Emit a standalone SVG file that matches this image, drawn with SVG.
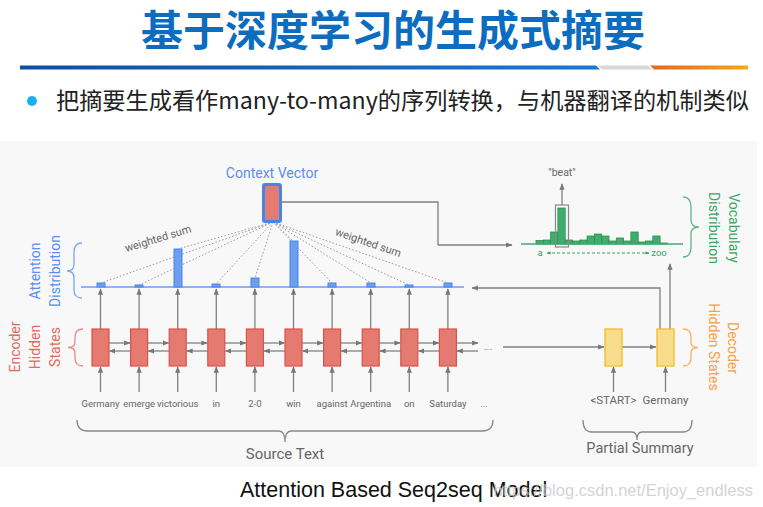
<svg xmlns="http://www.w3.org/2000/svg" width="763" height="507" viewBox="0 0 763 507">
<defs>
<linearGradient id="gBlue" x1="0" x2="1" y1="0" y2="0"><stop offset="0" stop-color="#0e4fa0"/><stop offset="1" stop-color="#1a78d0"/></linearGradient>
<linearGradient id="gOr" x1="0" x2="1" y1="0" y2="0"><stop offset="0" stop-color="#e8661a"/><stop offset="1" stop-color="#f5a81c"/></linearGradient>
<marker id="ag" viewBox="0 0 10 10" refX="9" refY="5" markerWidth="5" markerHeight="5" orient="auto-start-reverse"><path d="M0,1 L10,5 L0,9 z" fill="#777"/></marker>
<marker id="agr" viewBox="0 0 10 10" refX="9" refY="5" markerWidth="4" markerHeight="4" orient="auto-start-reverse"><path d="M0,1 L10,5 L0,9 z" fill="#34a363"/></marker>
<style>
.t{font-family:Roboto,"Noto Sans",sans-serif}
.w{font-family:Roboto,"Noto Sans",sans-serif;font-size:9.5px;fill:#666;text-anchor:middle}
.ln{stroke:#808080;stroke-width:1.3;fill:none}
.arr{stroke:#808080;stroke-width:1.3;fill:none;marker-end:url(#ag)}
.enc{fill:#e57a70;stroke:#d9534a;stroke-width:1.2}
.dec{fill:#f7dc8c;stroke:#f2c033;stroke-width:1.4}
.att{fill:#6d9eef;stroke:#4a84e8;stroke-width:1}
.voc{fill:#3fae6c;stroke:#2c8f52;stroke-width:0.8}
.dot{stroke:#9a9a9a;stroke-width:1;stroke-dasharray:1.5 2;fill:none}
</style>
</defs>
<rect width="763" height="507" fill="#ffffff"/>
<g id="header">
<text x="393" y="46" text-anchor="middle" font-family="'Noto Sans CJK SC',sans-serif" font-weight="bold" font-size="42" fill="#0c6cc0">基于深度学习的生成式摘要</text>
<polygon points="20,65.5 596,65.5 600,69.5 20,69.5" fill="url(#gBlue)"/>
<polygon points="598,65.5 648,65.5 652,69.5 602,69.5" fill="#d8d8d8"/>
<polygon points="650,65.5 748,65.5 748,69.5 654,69.5" fill="url(#gOr)"/>
<circle cx="32" cy="101" r="5" fill="#1ab0ef"/>
<text x="56" y="109" font-family="'Noto Sans CJK SC',sans-serif" font-size="23.2" fill="#222">把摘要生成看作many-to-many的序列转换，与机器翻译的机制类似</text>
</g>
<rect x="0" y="141" width="757" height="326" fill="#f8f8f8"/>
<g id="connectors">
<path class="ln" d="M281,202 H438 V245"/>
<path class="arr" d="M438,245 H512"/>
<g class="dot">
<line x1="273" y1="222" x2="101" y2="283"/><line x1="273" y1="222" x2="139" y2="285"/><line x1="273" y1="222" x2="178" y2="249"/><line x1="273" y1="222" x2="216" y2="284"/><line x1="273" y1="222" x2="255" y2="278"/><line x1="273" y1="222" x2="293" y2="241"/><line x1="273" y1="222" x2="332" y2="283"/><line x1="273" y1="222" x2="371" y2="283"/><line x1="273" y1="222" x2="409" y2="285"/><line x1="273" y1="222" x2="448" y2="283"/>
</g>
<g class="arr">
<path d="M100.5,329 V289"/><path d="M139.1,329 V289"/><path d="M177.7,329 V289"/><path d="M216.3,329 V289"/><path d="M254.9,329 V289"/><path d="M293.5,329 V289"/><path d="M332.1,329 V289"/><path d="M370.7,329 V289"/><path d="M409.3,329 V289"/><path d="M447.9,329 V289"/>
<path d="M100.5,392 V367"/><path d="M139.1,392 V367"/><path d="M177.7,392 V367"/><path d="M216.3,392 V367"/><path d="M254.9,392 V367"/><path d="M293.5,392 V367"/><path d="M332.1,392 V367"/><path d="M370.7,392 V367"/><path d="M409.3,392 V367"/><path d="M447.9,392 V367"/>
<path d="M613.5,392 V367"/><path d="M665.5,392 V367"/>
<path d="M109,343 H130"/><path d="M147.6,343 H168.6"/><path d="M186.2,343 H207.2"/><path d="M224.8,343 H245.8"/><path d="M263.4,343 H284.4"/><path d="M302,343 H323"/><path d="M340.6,343 H361.6"/><path d="M379.2,343 H400.2"/><path d="M417.8,343 H438.8"/><path d="M456.4,343 H478"/>
<path d="M130.6,351 H109.6"/><path d="M169.2,351 H148.2"/><path d="M207.8,351 H186.8"/><path d="M246.4,351 H225.4"/><path d="M285,351 H264"/><path d="M323.6,351 H302.6"/><path d="M362.2,351 H341.2"/><path d="M400.8,351 H379.8"/><path d="M439.4,351 H418.4"/><path d="M478,351 H457"/>
<path d="M503,347 H604"/><path d="M622,347 H656"/>
<path d="M660,329 V288 H472"/>
<path d="M670,329 V264"/>
<path d="M562,205 V184"/>
</g>
<text x="488" y="350" class="t" font-size="11" fill="#888" text-anchor="middle">...</text>
</g>
<g id="context-vector">
<text x="272" y="178" class="t" font-size="14" fill="#5a8ef0" text-anchor="middle">Context Vector</text>
<rect x="263.5" y="184.5" width="17" height="37" fill="#e57a70" stroke="#4a84e8" stroke-width="3" rx="1.5"/>
</g>
<g id="attention-distribution">
<line x1="81" y1="287" x2="464" y2="287" stroke="#6d9eef" stroke-width="1.6"/>
<rect class="att" x="97" y="283" width="8" height="4"/><rect class="att" x="135" y="285" width="8" height="2"/><rect class="att" x="174" y="249" width="8" height="38"/><rect class="att" x="212" y="284" width="8" height="3"/><rect class="att" x="251" y="278" width="8" height="9"/><rect class="att" x="290" y="241" width="8" height="46"/><rect class="att" x="328" y="283" width="8" height="4"/><rect class="att" x="367" y="283" width="8" height="4"/><rect class="att" x="405" y="285" width="8" height="2"/><rect class="att" x="444" y="283" width="8" height="4"/>
<path d="M82,243 Q74,243 74,252 L74,264 Q74,271 67,271 Q74,271 74,278 L74,290 Q74,298 82,298" fill="none" stroke="#7aa6f2" stroke-width="1.3"/>
<text class="t" font-size="14" fill="#5a8ef0" text-anchor="middle" transform="translate(40,271) rotate(-90)">Attention</text>
<text class="t" font-size="14" fill="#5a8ef0" text-anchor="middle" transform="translate(60,271) rotate(-90)">Distribution</text>
<text class="t" font-size="11" fill="#666" text-anchor="middle" transform="translate(159,242) rotate(-17)">weighted sum</text>
<text class="t" font-size="11" fill="#666" text-anchor="middle" transform="translate(367,246) rotate(19)">weighted sum</text>
</g>
<g id="encoder">
<rect class="enc" x="92" y="329" width="17" height="37"/><rect class="enc" x="130.6" y="329" width="17" height="37"/><rect class="enc" x="169.2" y="329" width="17" height="37"/><rect class="enc" x="207.8" y="329" width="17" height="37"/><rect class="enc" x="246.4" y="329" width="17" height="37"/><rect class="enc" x="285" y="329" width="17" height="37"/><rect class="enc" x="323.6" y="329" width="17" height="37"/><rect class="enc" x="362.2" y="329" width="17" height="37"/><rect class="enc" x="400.8" y="329" width="17" height="37"/><rect class="enc" x="439.4" y="329" width="17" height="37"/>
<path d="M83,329 Q75,329 75,337 L75,342 Q75,347.5 68,347.5 Q75,347.5 75,353 L75,358 Q75,366 83,366" fill="none" stroke="#e88a82" stroke-width="1.3"/>
<text class="t" font-size="14" fill="#e06a60" text-anchor="middle" transform="translate(20,347) rotate(-90)">Encoder</text>
<text class="t" font-size="14" fill="#e06a60" text-anchor="middle" transform="translate(40,347) rotate(-90)">Hidden</text>
<text class="t" font-size="14" fill="#e06a60" text-anchor="middle" transform="translate(60,347) rotate(-90)">States</text>
</g>
<g id="source-text">
<text class="w" x="100.5" y="407">Germany</text><text class="w" x="139.1" y="407">emerge</text><text class="w" x="177.7" y="407">victorious</text><text class="w" x="216.3" y="407">in</text><text class="w" x="254.9" y="407">2-0</text><text class="w" x="293.5" y="407">win</text><text class="w" x="332.1" y="407">against</text><text class="w" x="370.7" y="407">Argentina</text><text class="w" x="409.3" y="407">on</text><text class="w" x="447.9" y="407">Saturday</text><text class="w" x="484" y="407">...</text>
<path d="M77,420 Q77,431 88,431 L279,431 Q285,431 285,442 Q285,431 291,431 L482,431 Q493,431 493,420" fill="none" stroke="#888" stroke-width="1.3"/>
<text class="t" x="285" y="459" font-size="15" fill="#666" text-anchor="middle">Source Text</text>
</g>
<g id="decoder">
<rect class="dec" x="605" y="329" width="17" height="37"/>
<rect class="dec" x="657" y="329" width="17" height="37"/>
<path d="M683,329 Q691,329 691,337 L691,342 Q691,347.5 698,347.5 Q691,347.5 691,353 L691,358 Q691,366 683,366" fill="none" stroke="#f5b25e" stroke-width="1.3"/>
<text class="t" font-size="14" fill="#f5a04a" text-anchor="middle" transform="translate(728,348) rotate(90)">Decoder</text>
<text class="t" font-size="14" fill="#f5a04a" text-anchor="middle" transform="translate(709,347) rotate(90)">Hidden States</text>
</g>
<g id="partial-summary">
<text class="t" x="613.5" y="404" font-size="11.5" fill="#666" text-anchor="middle">&lt;START&gt;</text>
<text class="t" x="665.5" y="404" font-size="11.5" fill="#666" text-anchor="middle">Germany</text>
<path d="M583,420 Q583,432 592,432 L632,432 Q637,432 637,440 Q637,432 642,432 L683,432 Q692,432 692,420" fill="none" stroke="#888" stroke-width="1.3"/>
<text class="t" x="640" y="453" font-size="14.5" fill="#666" text-anchor="middle">Partial Summary</text>
</g>
<g id="vocabulary-distribution">
<rect class="voc" x="536" y="240.5" width="7.3" height="3.5"/><rect class="voc" x="543.3" y="240" width="7.3" height="4"/><rect class="voc" x="550.6" y="232" width="7.3" height="12"/><rect class="voc" x="557.9" y="208" width="7.3" height="36"/><rect class="voc" x="565.2" y="240" width="7.3" height="4"/><rect class="voc" x="572.5" y="241" width="7.3" height="3"/><rect class="voc" x="579.8" y="240" width="7.3" height="4"/><rect class="voc" x="587.1" y="236" width="7.3" height="8"/><rect class="voc" x="594.4" y="234" width="7.3" height="10"/><rect class="voc" x="601.7" y="236" width="7.3" height="8"/><rect class="voc" x="609" y="241" width="7.3" height="3"/><rect class="voc" x="616.3" y="238" width="7.3" height="6"/><rect class="voc" x="623.6" y="241" width="7.3" height="3"/><rect class="voc" x="630.9" y="232" width="7.3" height="12"/><rect class="voc" x="638.2" y="242" width="7.3" height="2"/><rect class="voc" x="645.5" y="241" width="7.3" height="3"/><rect class="voc" x="652.8" y="236" width="7.3" height="8"/><rect class="voc" x="660.1" y="243" width="7.3" height="1"/>
<line x1="521" y1="244" x2="683" y2="244" stroke="#3fae6c" stroke-width="1.5"/>
<rect x="555.5" y="205" width="13" height="42" fill="none" stroke="#888" stroke-width="1.2"/>
<text class="t" x="562" y="176" font-size="10.5" fill="#666" text-anchor="middle">"beat"</text>
<text class="t" x="540" y="256" font-size="9.5" fill="#34a363" text-anchor="middle">a</text>
<line x1="547" y1="253" x2="649" y2="253" stroke="#34a363" stroke-width="1" stroke-dasharray="3 2" marker-start="url(#agr)" marker-end="url(#agr)"/>
<text class="t" x="659" y="256" font-size="9.5" fill="#34a363" text-anchor="middle">zoo</text>
<path d="M683,197 Q691,197 691,207 L691,220 Q691,227 699,227 Q691,227 691,234 L691,247 Q691,257 683,257" fill="none" stroke="#5cba80" stroke-width="1.3"/>
<text class="t" font-size="14" fill="#3aa866" text-anchor="middle" transform="translate(729,228) rotate(90)">Vocabulary</text>
<text class="t" font-size="14" fill="#3aa866" text-anchor="middle" transform="translate(709,228) rotate(90)">Distribution</text>
</g>
<g id="caption">
<text x="240" y="497" font-family="'Liberation Sans',Arial,sans-serif" font-size="21.5" fill="#111">Attention Based Seq2seq Model</text>
<text x="753" y="496" font-family="'Liberation Sans',Arial,sans-serif" font-size="16.5" fill="#c8c8c8" fill-opacity="0.8" text-anchor="end">https://blog.csdn.net/Enjoy_endless</text>
</g>
</svg>
